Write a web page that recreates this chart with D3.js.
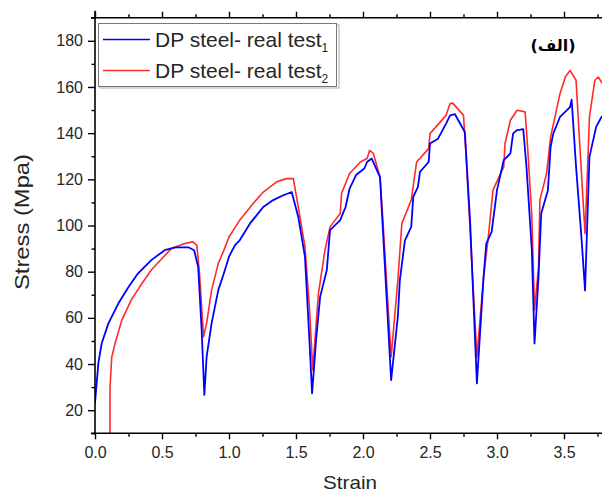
<!DOCTYPE html>
<html>
<head>
<meta charset="utf-8">
<script src="https://cdn.jsdelivr.net/npm/d3@7"></script>
<style>
  body { margin: 0; background: #fff; }
  svg { display: block; font-family: "Liberation Sans", Arial, sans-serif; }
</style>
</head>
<body>
<div id="chart"></div>
<script>
// strain / stress
const strainBlue = [0, 0.025, 0.05, 0.1, 0.174, 0.25, 0.32, 0.42, 0.52, 0.6, 0.7, 0.74, 0.77, 0.796, 0.816,
  0.833, 0.87, 0.92, 0.96, 1.0, 1.045, 1.08, 1.157, 1.256, 1.33, 1.405, 1.468, 1.517, 1.567, 1.6, 1.62,
  1.65, 1.68, 1.73, 1.754, 1.83, 1.87, 1.9, 1.95, 2.01, 2.03, 2.065, 2.127, 2.15, 2.21,
  2.26, 2.275, 2.313, 2.36, 2.375, 2.41, 2.425, 2.49, 2.5, 2.56, 2.62, 2.65, 2.686, 2.76, 2.8, 2.85,
  2.9, 2.92, 2.96, 3.0, 3.05, 3.1, 3.12, 3.146, 3.196, 3.22, 3.26, 3.28,
  3.31, 3.33, 3.38, 3.4, 3.42, 3.47, 3.545, 3.557, 3.59, 3.63, 3.657, 3.69, 3.74, 3.78, 3.85];
const stressBlue = [23, 40.4, 49, 57.6, 66.2, 73.4, 79.2, 85, 89.3, 90.5, 90.5, 89.3, 82, 54.7, 26.6,
  43.1, 57.6, 72, 79, 86.5, 91.5, 93.6, 100.9, 108, 111, 113.1, 114.5, 103.7, 86.4, 50.4, 27.3,
  50.4, 69.1, 80.7, 98, 102.3, 108, 116, 122, 124.7, 127.5, 129, 121, 96.5, 33,
  60.5, 76.3, 93.6, 99.4, 112.4, 116.7, 123.2, 127.5, 135.5, 137.6, 144.1, 147.7, 148.2, 140.5, 100.9, 31.6,
  77.8, 92.2, 97.2, 115.3, 128.3, 131.2, 139.8, 141.2, 141.7, 125.4, 89.3, 48.9,
  77.8, 105.2, 115.3, 134, 139.8, 147, 151.3, 154.5, 125.4, 95, 71.9, 129.7, 142.7, 147, 150];

const strainRed = [0.112, 0.112, 0.125, 0.15, 0.2, 0.27, 0.35, 0.42, 0.5, 0.57, 0.67, 0.73, 0.76, 0.78, 0.81,
  0.833, 0.87, 0.92, 0.96, 1.0, 1.08, 1.18, 1.256, 1.356, 1.43, 1.48, 1.517, 1.567, 1.6, 1.625,
  1.667, 1.716, 1.754, 1.83, 1.84, 1.9, 1.98, 2.03, 2.05, 2.077, 2.127, 2.15, 2.177, 2.21,
  2.26, 2.29, 2.36, 2.4, 2.49, 2.5, 2.62, 2.65, 2.67, 2.75, 2.77, 2.81, 2.85,
  2.9, 2.935, 2.95, 2.97, 3.05, 3.06, 3.1, 3.15, 3.21, 3.23, 3.26, 3.28,
  3.31, 3.32, 3.37, 3.4, 3.47, 3.51, 3.545, 3.59, 3.62, 3.657, 3.69, 3.73, 3.756, 3.78, 3.85];
const stressRed = [10, 30, 43, 49, 59, 67.7, 74.9, 80.7, 85.7, 90, 92.2, 92.9, 91.5, 79.2, 51.8,
  57.6, 72, 83.6, 89, 95, 102.3, 109.5, 114.5, 118.9, 120.3, 120.3, 108, 90.7, 64.8, 37.4,
  70.4, 89.3, 99.4, 105.2, 113.9, 122.5, 127.5, 129, 132.6, 131.2, 121, 100.9, 74.9, 43.1,
  76.3, 100.9, 111, 127.5, 133.3, 139.8, 147.7, 152.8, 153, 147.7, 129.7, 86.4, 43.1,
  77.8, 95, 103.7, 115.3, 125.4, 135.5, 145.6, 149.9, 149.2, 132.6, 103.7, 63.4,
  82.1, 111, 122.5, 138.3, 157.1, 164.3, 167.2, 162.9, 132.6, 96.5, 147, 162.9, 164.3, 162, 158];

const xTicks = [0, 0.5, 1, 1.5, 2, 2.5, 3, 3.5];
const yTicks = [20, 40, 60, 80, 100, 120, 140, 160, 180];
const seriesNames = ["DP steel- real test", "DP steel- real test"];
const seriesSubs = ["1", "2"];
const seriesColors = ["#0000ff", "#ff2a2a"];

const width = 602, height = 495;
const mLeft = 95, mTop = 17.7, mBottom = 433.3;

const x = d3.scaleLinear().domain([0, 4]).range([mLeft, mLeft + 4 * 134]);
const y = d3.scaleLinear().domain([10, 190]).range([mBottom, mTop]);

const svg = d3.select("#chart").append("svg")
  .attr("width", width)
  .attr("height", height);

svg.append("defs").append("clipPath").attr("id", "plot-clip")
  .append("rect")
  .attr("x", mLeft).attr("y", mTop)
  .attr("width", width - mLeft).attr("height", mBottom - mTop);

// curves
const line = d3.line().x(d => x(d[0])).y(d => y(d[1]));
const red = d3.zip(strainRed, stressRed);
const blue = d3.zip(strainBlue, stressBlue);

const plot = svg.append("g").attr("clip-path", "url(#plot-clip)");
plot.append("path").datum(red)
  .attr("d", line).attr("fill", "none")
  .attr("stroke", seriesColors[1]).attr("stroke-width", 1.6)
  .attr("stroke-linejoin", "round");
plot.append("path").datum(blue)
  .attr("d", line).attr("fill", "none")
  .attr("stroke", seriesColors[0]).attr("stroke-width", 1.8)
  .attr("stroke-linejoin", "round");

// axes
const textColor = "#262626";
function styleAxis(g) {
  g.select(".domain").remove();
  g.selectAll(".tick line").attr("stroke", "#000").attr("stroke-width", 1.4);
  g.selectAll(".tick text").attr("fill", textColor).style("font-size", "16px");
}

const xMinor = d3.range(0.25, 4, 0.5);
const yMinor = d3.range(10, 191, 20);

svg.append("g").attr("transform", `translate(0,${mBottom})`)
  .call(d3.axisBottom(x).tickValues(xTicks).tickFormat(d3.format(".1f")).tickSize(6).tickPadding(7))
  .call(styleAxis);
svg.append("g").attr("transform", `translate(0,${mBottom})`)
  .call(d3.axisBottom(x).tickValues(xMinor).tickFormat("").tickSize(3.5))
  .call(styleAxis);

svg.append("g").attr("transform", `translate(0,${mTop})`)
  .call(d3.axisTop(x).tickValues(xTicks).tickFormat("").tickSize(6))
  .call(styleAxis);
svg.append("g").attr("transform", `translate(0,${mTop})`)
  .call(d3.axisTop(x).tickValues(xMinor).tickFormat("").tickSize(3.5))
  .call(styleAxis);

svg.append("g").attr("transform", `translate(${mLeft},0)`)
  .call(d3.axisLeft(y).tickValues(yTicks).tickSize(7).tickPadding(5))
  .call(styleAxis);
svg.append("g").attr("transform", `translate(${mLeft},0)`)
  .call(d3.axisLeft(y).tickValues(yMinor).tickFormat("").tickSize(3.5))
  .call(styleAxis);

// frame lines
svg.append("line").attr("x1", mLeft).attr("x2", mLeft).attr("y1", mTop - 7).attr("y2", mBottom + 1)
  .attr("stroke", "#000").attr("stroke-width", 1.6);
svg.append("line").attr("x1", mLeft - 4).attr("x2", width).attr("y1", mBottom).attr("y2", mBottom)
  .attr("stroke", "#000").attr("stroke-width", 1.6);
svg.append("line").attr("x1", mLeft - 4).attr("x2", width).attr("y1", mTop).attr("y2", mTop)
  .attr("stroke", "#000").attr("stroke-width", 1.6);

// axis titles
svg.append("text")
  .attr("x", 350).attr("y", 489)
  .attr("text-anchor", "middle")
  .attr("fill", textColor)
  .style("font-size", "19px")
  .attr("textLength", 54)
  .attr("lengthAdjust", "spacingAndGlyphs")
  .text("Strain");

svg.append("text")
  .attr("transform", "translate(29,222) rotate(-90)")
  .attr("text-anchor", "middle")
  .attr("fill", textColor)
  .style("font-size", "20px")
  .attr("textLength", 136)
  .attr("lengthAdjust", "spacingAndGlyphs")
  .text("Stress (Mpa)");

// arabic panel mark
svg.append("text")
  .attr("x", 553).attr("y", 51)
  .attr("text-anchor", "middle")
  .attr("fill", "#000")
  .style("font-family", "'DejaVu Sans', sans-serif")
  .style("font-size", "16px")
  .style("font-weight", "bold")
  .text("(الف)");

// legend
const lg = svg.append("g");
lg.append("rect")
  .attr("x", 100).attr("y", 25).attr("width", 239).attr("height", 63)
  .attr("fill", "none").attr("stroke", "#c8c8c8").attr("stroke-width", 1.5);
lg.append("rect")
  .attr("x", 98.5).attr("y", 23.5).attr("width", 238).attr("height", 63)
  .attr("fill", "#fff").attr("stroke", "#777").attr("stroke-width", 1);

const rows = lg.selectAll("g.row").data(seriesNames)
  .join("g").attr("class", "row")
  .attr("transform", (d, i) => `translate(0,${i * 31})`);
rows.append("line")
  .attr("x1", 103).attr("x2", 150).attr("y1", 39.5).attr("y2", 39.5)
  .attr("stroke", (d, i) => seriesColors[i]).attr("stroke-width", 1.6);
const lt = rows.append("text")
  .attr("x", 155).attr("y", 46.5)
  .attr("fill", textColor)
  .style("font-size", "21px");
lt.append("tspan").text(d => d);
lt.append("tspan").attr("dy", 5).style("font-size", "12px").text((d, i) => seriesSubs[i]);
</script>
</body>
</html>
